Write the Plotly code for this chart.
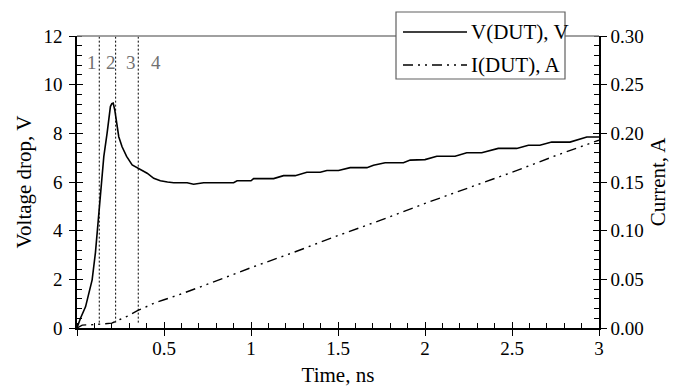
import plotly.graph_objects as go

# ---------------- data ----------------
t_v = [0, 0.02, 0.049, 0.087, 0.106, 0.131, 0.145, 0.154, 0.173, 0.192, 0.2, 0.208,
       0.217, 0.228, 0.24, 0.259, 0.285, 0.317, 0.355, 0.403, 0.441, 0.479, 0.52,
       0.556, 0.633, 0.67, 0.728, 0.9, 0.92, 1.0, 1.015, 1.13, 1.187, 1.254, 1.321,
       1.398, 1.436, 1.503, 1.57, 1.666, 1.704, 1.771, 1.876, 1.915, 2.0, 2.068,
       2.173, 2.24, 2.326, 2.421, 2.527, 2.594, 2.66, 2.728, 2.833, 2.93, 3.0]
v_dut = [0, 0.4, 0.87, 1.98, 3.1, 5.15, 6.5, 7.04, 8.01, 9.10, 9.22, 9.24,
         8.96, 8.4, 7.86, 7.45, 7.05, 6.70, 6.56, 6.36, 6.15, 6.05, 6.0,
         5.97, 5.97, 5.91, 5.97, 5.97, 6.05, 6.05, 6.14, 6.14, 6.26, 6.26, 6.40,
         6.40, 6.47, 6.47, 6.59, 6.59, 6.69, 6.79, 6.79, 6.90, 6.92, 7.06,
         7.06, 7.20, 7.20, 7.38, 7.38, 7.51, 7.51, 7.64, 7.64, 7.85, 7.85]

t_i = [0, 0.03, 0.1, 0.15, 0.2, 0.25, 0.3, 0.35, 0.4, 0.45, 0.5, 0.6, 0.75,
       1.0, 1.25, 1.5, 1.75, 2.0, 2.25, 2.5, 2.75, 3.0]
i_dut = [0, 0.003, 0.0035, 0.004, 0.005, 0.009, 0.013, 0.018, 0.022, 0.026, 0.029,
         0.035, 0.045, 0.062, 0.078, 0.095, 0.111, 0.128, 0.144, 0.160, 0.177, 0.193]

marker_t = [0.128, 0.222, 0.352]          # vertical dotted lines, ns
marker_v = [0.22, 12]                      # their vertical extent, V
region_labels = ["1", "2", "3", "4"]
region_label_t = [0.084, 0.198, 0.309, 0.455]
region_label_v = 10.93

x_tickvals = [0, 0.5, 1, 1.5, 2, 2.5, 3]
x_ticktext = ["", "0.5", "1", "1.5", "2", "2.5", "3"]
y_tickvals = [0, 2, 4, 6, 8, 10, 12]
y2_tickvals = [0, 0.05, 0.10, 0.15, 0.20, 0.25, 0.30]

legend_names = ["V(DUT), V", "I(DUT), A"]

FONT = "Liberation Serif"
I_DASH = "10px,5px,2px,5px,2px,5px"

fig = go.Figure()

# dotted region markers
for tm in marker_t:
    fig.add_trace(go.Scatter(x=[tm, tm], y=marker_v, mode="lines",
                             line=dict(color="black", width=1, dash="2px,2px"),
                             showlegend=False, hoverinfo="skip"))

fig.add_trace(go.Scatter(x=t_v, y=v_dut, mode="lines", name=legend_names[0],
                         line=dict(color="black", width=1.6), showlegend=False))
fig.add_trace(go.Scatter(x=t_i, y=i_dut, mode="lines", name=legend_names[1], yaxis="y2",
                         line=dict(color="black", width=1.4, dash=I_DASH), showlegend=False))

# empty traces so the inner-tick overlay axes are drawn
fig.add_trace(go.Scatter(x=[], y=[], yaxis="y3", showlegend=False, hoverinfo="skip"))
fig.add_trace(go.Scatter(x=[], y=[], xaxis="x3", showlegend=False, hoverinfo="skip"))
fig.add_trace(go.Scatter(x=[], y=[], yaxis="y4", showlegend=False, hoverinfo="skip"))

tickfont = dict(family=FONT, size=19, color="black")
titlefont = dict(family=FONT, size=21, color="black")

fig.update_layout(
    width=676, height=387,
    margin=dict(l=77, r=77, t=36, b=59, autoexpand=False),
    paper_bgcolor="white", plot_bgcolor="white",
    font=dict(family=FONT, color="black"),
    xaxis=dict(range=[0, 3], tickvals=x_tickvals, ticktext=x_ticktext, automargin=False,
               ticks="outside", ticklen=6, tickwidth=1.2, tickcolor="black",
               ticklabelstandoff=-4,
               minor=dict(dtick=0.1, tick0=0, ticks="inside", ticklen=5, tickcolor="black", tickwidth=1),
               showline=True, linecolor="black", linewidth=1.5,
               showgrid=False, zeroline=False, tickfont=tickfont,
               title=dict(text="Time, ns", font=titlefont, standoff=22)),
    xaxis3=dict(range=[0, 3], overlaying="x", anchor="y", side="bottom", automargin=False,
                tickvals=x_tickvals, ticks="inside", ticklen=6, tickwidth=1.2,
                tickcolor="black", showticklabels=False, showline=False,
                showgrid=False, zeroline=False),
    yaxis=dict(range=[0, 12], tickvals=y_tickvals, automargin=False,
               ticks="outside", ticklen=6, tickwidth=1.2, tickcolor="black",
               ticklabelstandoff=3,
               minor=dict(dtick=0.4, tick0=0, ticks="inside", ticklen=5, tickcolor="black", tickwidth=1),
               showline=True, linecolor="black", linewidth=1.5,
               showgrid=False, zeroline=False, tickfont=tickfont,
               title=dict(text="Voltage drop, V", font=titlefont, standoff=6)),
    yaxis3=dict(range=[0, 12], overlaying="y", anchor="x", side="left", automargin=False,
                tickvals=y_tickvals, ticks="inside", ticklen=6, tickwidth=1.2,
                tickcolor="black", showticklabels=False, showline=False,
                showgrid=False, zeroline=False),
    yaxis2=dict(range=[0, 0.3], overlaying="y", anchor="x", side="right", automargin=False,
                tickvals=y2_tickvals, tickformat=".2f",
                ticks="outside", ticklen=6, tickwidth=1.2, tickcolor="black",
                minor=dict(dtick=0.01, tick0=0, ticks="inside", ticklen=5, tickcolor="black", tickwidth=1),
                showline=True, linecolor="black", linewidth=1.5,
                showgrid=False, zeroline=False, tickfont=tickfont,
                title=dict(text="Current, A", font=titlefont, standoff=8)),
    yaxis4=dict(range=[0, 0.3], overlaying="y", anchor="x", side="right", automargin=False,
                tickvals=y2_tickvals, ticks="inside", ticklen=6, tickwidth=1.2,
                tickcolor="black", showticklabels=False, showline=False,
                showgrid=False, zeroline=False),
    showlegend=False,
)

# top frame line (gray)
fig.add_shape(type="line", xref="paper", yref="paper", x0=0, x1=1, y0=1, y1=1,
              line=dict(color="#808080", width=1.5))

# region numbers
for lab, tl in zip(region_labels, region_label_t):
    fig.add_annotation(x=tl, y=region_label_v, xref="x", yref="y", text=lab,
                       showarrow=False, font=dict(family=FONT, size=19, color="#707070"))

# legend box (drawn manually to match the long sample lines)
def px2x(px):
    return (px - 77) / 522.0

def px2y(py):
    return (328 - py) / 292.0

fig.add_shape(type="rect", xref="paper", yref="paper",
              x0=px2x(396), x1=px2x(565), y0=px2y(79), y1=px2y(12),
              fillcolor="white", line=dict(color="#606060", width=1.2), layer="above")
rows_py = [32, 65]
dashes = ["solid", I_DASH]
for name, py, dsh in zip(legend_names, rows_py, dashes):
    fig.add_shape(type="line", xref="paper", yref="paper",
                  x0=px2x(403), x1=px2x(467), y0=px2y(py), y1=px2y(py),
                  line=dict(color="black", width=1.5, dash=dsh), layer="above")
    fig.add_annotation(x=px2x(469), y=px2y(py), xref="paper", yref="paper",
                       text=name, showarrow=False, xanchor="left", yanchor="middle",
                       font=dict(family=FONT, size=21, color="black"))

fig.write_html("out.html")
